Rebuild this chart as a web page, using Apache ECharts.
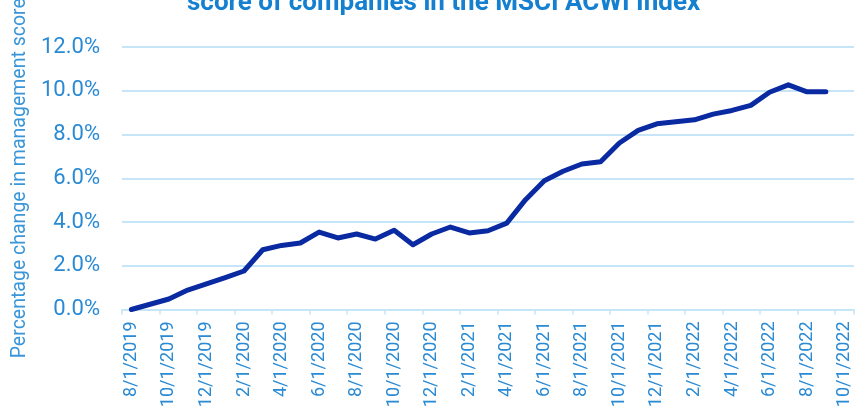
<!DOCTYPE html>
<html>
<head>
<meta charset="utf-8">
<script src="https://cdn.jsdelivr.net/npm/echarts@6/dist/echarts.min.js"></script>
<style>
html,body{margin:0;padding:0;background:#fff;}
#chart{width:865px;height:411px;}
</style>
</head>
<body>
<div id="chart"></div>
<script>
var titleText = 'score of companies in the MSCI ACWI Index';
var yAxisName = 'Percentage change in management score';
var categories = ['8/1/2019','9/1/2019','10/1/2019','11/1/2019','12/1/2019','1/1/2020','2/1/2020','3/1/2020','4/1/2020','5/1/2020','6/1/2020','7/1/2020','8/1/2020','9/1/2020','10/1/2020','11/1/2020','12/1/2020','1/1/2021','2/1/2021','3/1/2021','4/1/2021','5/1/2021','6/1/2021','7/1/2021','8/1/2021','9/1/2021','10/1/2021','11/1/2021','12/1/2021','1/1/2022','2/1/2022','3/1/2022','4/1/2022','5/1/2022','6/1/2022','7/1/2022','8/1/2022','9/1/2022','10/1/2022'];
var scoreChange = [0.00,0.24,0.48,0.89,1.17,1.46,1.76,2.73,2.93,3.04,3.54,3.27,3.45,3.22,3.62,2.96,3.45,3.77,3.50,3.60,3.95,5.02,5.89,6.32,6.65,6.75,7.61,8.19,8.49,8.58,8.67,8.93,9.10,9.33,9.93,10.27,9.95,9.95];
var yTicks = [0,2,4,6,8,10,12];

var chart = echarts.init(document.getElementById('chart'), null, {renderer:'canvas'});
chart.setOption({
  animation:false,
  backgroundColor:'#ffffff',
  title:{
    text:titleText,
    left:182,
    top:-15,
    textStyle:{fontFamily:'Roboto',fontWeight:'bold',fontSize:26,color:'#1580d0'}
  },
  grid:{left:122,right:11,top:47,bottom:101.5,containLabel:false,outerBoundsMode:'none'},
  xAxis:{
    type:'category',
    data:categories,
    boundaryGap:true,
    axisLine:{show:true,lineStyle:{color:'#c6e5f8',width:2}},
    axisTick:{show:true,interval:1,length:5,lineStyle:{color:'#c6e5f8',width:1.5}},
    axisLabel:{interval:1,rotate:90,margin:12,fontFamily:'Roboto',fontSize:18,color:'#2a8ad4'}
  },
  yAxis:{
    type:'value',
    min:yTicks[0],
    max:yTicks[yTicks.length-1],
    interval:2,
    name:yAxisName,
    nameLocation:'middle',
    nameGap:81,
    nameRotate:90,
    nameTextStyle:{fontFamily:'Roboto',fontSize:19.5,color:'#3a96d8'},
    axisLine:{show:false},
    axisTick:{show:false},
    splitLine:{lineStyle:{color:'#c6e5f8',width:2}},
    axisLabel:{margin:22,fontFamily:'Roboto',fontSize:22,color:'#2a8ad4',formatter:function(v){return v.toFixed(1)+'%';}}
  },
  series:[{
    type:'line',
    data:scoreChange,
    symbol:'none',
    smooth:false,
    lineStyle:{color:'#0a2aa2',width:5,cap:'round',join:'round'}
  }]
});
</script>
</body>
</html>
